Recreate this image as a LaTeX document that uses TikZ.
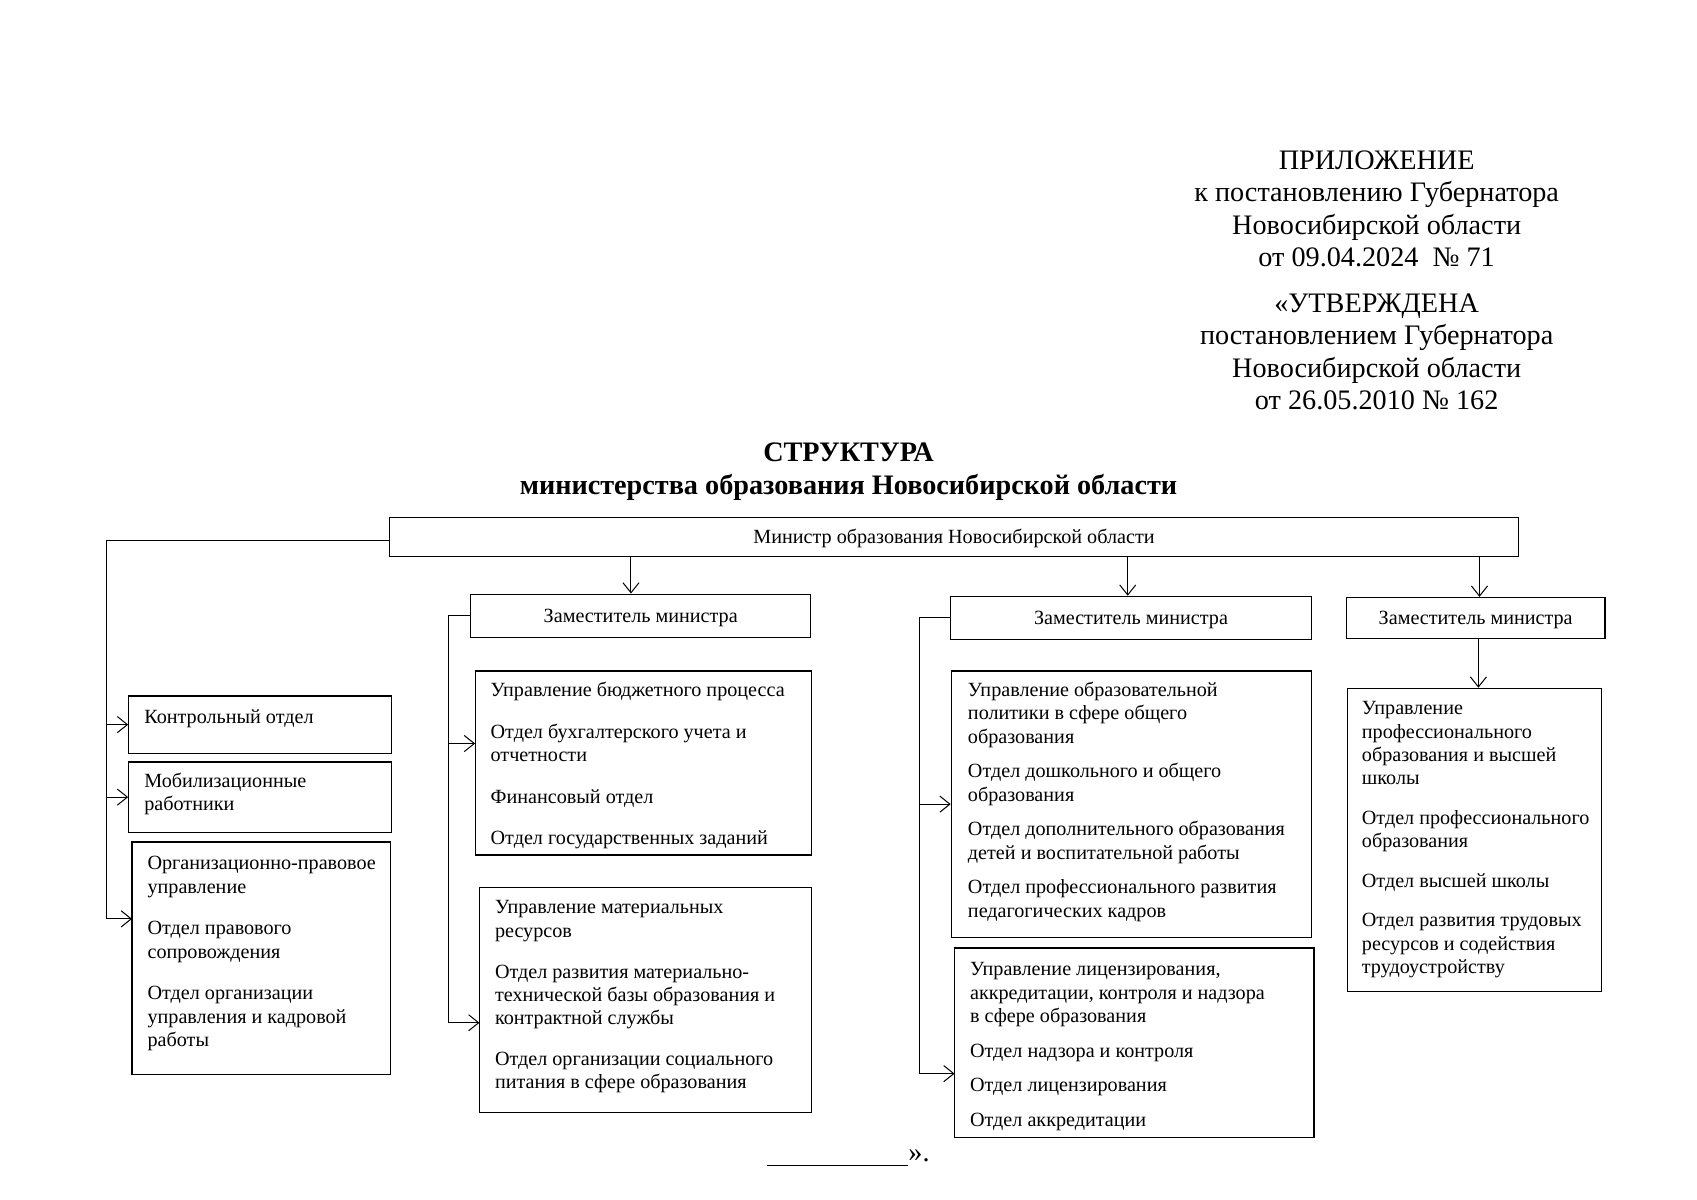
\documentclass[tikz,border=0pt]{standalone}
\usepackage{fontspec}
\setmainfont{Liberation Serif}
\usetikzlibrary{arrows.meta,fit}
\begin{document}
\begin{tikzpicture}[x=0.537pt,y=-0.537pt,
  box/.style={draw=black, line width=0.6pt, inner sep=0pt},
  ctxt/.style={inner sep=0pt, font=\fontsize{10}{11.6}\selectfont},
  txt/.style={anchor=north west, inner sep=0pt, align=left, font=\fontsize{10}{11.6}\selectfont},
  conn/.style={line width=0.5pt},
  arr/.style={conn, -{Straight Barb[length=5pt,width=8pt,line width=0.5pt]}}]
\useasboundingbox[fill=white] (0,0) rectangle (1568,1108);

% header
\node[anchor=north, inner sep=0pt, align=center, font=\fontsize{14}{16.1}\selectfont] (hdr) at (1272,135)
 {\strut ПРИЛОЖЕНИЕ\\к постановлению Губернатора\\Новосибирской области\\от 09.04.2024\ \ № 71\\[6.6pt]«УТВЕРЖДЕНА\\постановлением Губернатора\\Новосибирской области\\от 26.05.2010 № 162};

\node[anchor=north, inner sep=0pt, align=center, font=\fontsize{14}{16.6}\selectfont\bfseries] (title) at (784,404)
 {\strut СТРУКТУРА\\министерства образования Новосибирской области};

% boxes
\node[box, fit={(360,478) (1403,514)}] (min) {};
\node[box, fit={(435,549) (749,589)}] (dep1) {};
\node[box, fit={(878,551) (1212,591)}] (dep2) {};
\node[box, fit={(1244,552) (1483,590)}] (dep3) {};
\node[ctxt] (minT) at ([yshift=-1pt]min.center) {Министр образования Новосибирской области};
\node[ctxt] (dep1T) at ([yshift=-1pt]dep1.center) {Заместитель министра};
\node[ctxt] (dep2T) at ([yshift=-1pt]dep2.center) {Заместитель министра};
\node[ctxt] (dep3T) at ([yshift=-1pt]dep3.center) {Заместитель министра};

\node[box, fit={(119,643) (362,696)}] (kontrol) {};
\node[box, fit={(119,704) (362,769)}] (mobil) {};
\node[box, fit={(122,778) (361,993)}] (org) {};
\node[box, fit={(439,620) (750,790)}] (b1) {};
\node[box, fit={(443,820) (750,1028)}] (b2) {};
\node[box, fit={(879,620) (1212,866)}] (c1) {};
\node[box, fit={(882,876) (1214,1051)}] (c2) {};
\node[box, fit={(1245,636) (1480,916)}] (d1) {};

% texts
\node[txt] (kontrolT) at (133,653) {\strut Контрольный отдел};
\node[txt] (mobilT) at (133,712) {\strut Мобилизационные\\работники};
\node[txt] (orgT) at (136,788) {\strut Организационно-правовое\\управление\\[9.1pt]Отдел правового\\сопровождения\\[9.1pt]Отдел организации\\управления и кадровой\\работы};
\node[txt] (b1T) at (453,628) {\strut Управление бюджетного процесса\\[9.1pt]Отдел бухгалтерского учета и\\отчетности\\[9.1pt]Финансовый отдел\\[9.1pt]Отдел государственных заданий};
\node[txt] (b2T) at (457,829) {\strut Управление материальных\\ресурсов\\[8.6pt]Отдел развития материально-\\технической базы образования и\\контрактной службы\\[8.6pt]Отдел организации социального\\питания в сфере образования};
\node[txt] (c1T) at (894,628) {\strut Управление образовательной\\политики в сфере общего\\образования\\[5.6pt]Отдел дошкольного и общего\\образования\\[5.6pt]Отдел дополнительного образования\\детей и воспитательной работы\\[5.6pt]Отдел профессионального развития\\педагогических кадров};
\node[txt] (c2T) at (896,886) {\strut Управление лицензирования,\\аккредитации, контроля и надзора\\в сфере образования\\[5.6pt]Отдел надзора и контроля\\[5.6pt]Отдел лицензирования\\[5.6pt]Отдел аккредитации};
\node[txt] (d1T) at (1258,645) {\strut Управление\\профессионального\\образования и высшей\\школы\\[8pt]Отдел профессионального\\образования\\[8pt]Отдел высшей школы\\[8pt]Отдел развития трудовых\\ресурсов и содействия\\трудоустройству};

% helper coordinates
\coordinate (busL) at (98,0);
\coordinate (bus1) at (414,0);
\coordinate (bus2) at (850,0);
\coordinate (minL) at (360,499);
\coordinate (orgIn) at (122,849);
\coordinate (b1In) at (439,687);
\coordinate (b2In) at (443,945);
\coordinate (c2In) at (882,992);
\coordinate (a1) at (583,0);
\coordinate (a2) at (1042,0);
\coordinate (a3) at (1367,0);
\coordinate (a4) at (1366,0);

% connectors
\draw[arr] (minL) -| (busL |- orgIn) -- (orgIn);
\draw[arr] (busL |- kontrol.west) -- (kontrol.west);
\draw[arr] (busL |- mobil.west) -- (mobil.west);

\draw[arr] (min.south -| a1) -- (dep1.north -| a1);
\draw[arr] (min.south -| a2) -- (dep2.north -| a2);
\draw[arr] (min.south -| a3) -- (dep3.north -| a3);

\draw[arr] (dep1.west) -| (bus1 |- b2In) -- (b2In);
\draw[arr] (bus1 |- b1In) -- (b1In);

\draw[arr] (dep2.west) -| (bus2 |- c2In) -- (c2In);
\draw[arr] (bus2 |- c1.west) -- (c1.west);

\draw[arr] (dep3.south -| a4) -- (d1.north -| a4);

% closing
\coordinate (ulA) at (709,1077);
\coordinate (ulB) at (839,1077);
\draw[conn] (ulA) -- (ulB);
\node[anchor=base west, inner sep=0pt, font=\fontsize{14}{16.1}\selectfont] (close) at (839,1073) {».};
\end{tikzpicture}
\end{document}
